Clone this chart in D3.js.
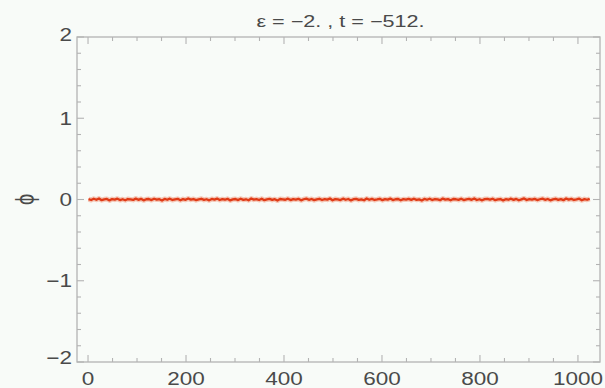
<!DOCTYPE html>
<html>
<head>
<meta charset="utf-8">
<script src="https://cdn.jsdelivr.net/npm/d3@7"></script>
<style>
  html, body { margin: 0; padding: 0; background: #f8fbf8; }
  svg { display: block; }
  text { font-family: "Liberation Sans", Arial, sans-serif; fill: #4a4a4a; }
</style>
</head>
<body>
<svg id="chart" width="605" height="388"></svg>
<script>
// Field values phi along the lattice (sites 1..1024), sampled evenly
const phi = [
  0.004,-0.006,0.009,-0.003,0.012,-0.008,0.002,0.007,-0.011,0.005,-0.002,0.010,-0.007,0.003,-0.009,0.006,
  0.001,-0.005,0.011,-0.004,0.008,-0.010,0.003,0.006,-0.007,0.009,-0.001,0.004,-0.012,0.007,-0.003,0.010,
  -0.006,0.002,0.008,-0.009,0.005,-0.004,0.013,-0.002,0.006,-0.008,0.001,0.009,-0.005,0.003,-0.010,0.007,
  -0.001,0.011,-0.006,0.004,-0.003,0.008,-0.011,0.002,0.006,-0.007,0.010,-0.004,0.003,-0.009,0.012,-0.002,
  0.005,-0.006,0.009,-0.008,0.001,0.007,-0.005,0.004,-0.012,0.006,0.002,-0.003,0.010,-0.007,0.005,-0.001,
  0.008,-0.010,0.003,0.011,-0.004,0.006,-0.008,0.002,0.009,-0.006,0.004,-0.002,0.013,-0.009,0.005,0.001,
  -0.007,0.010,-0.003,0.006,-0.011,0.004,0.008,-0.005,0.002,-0.009,0.012,-0.003,0.007,-0.006,0.001,0.009,
  -0.008,0.005,-0.002,0.011,-0.007,0.003,0.006,-0.010,0.004,-0.001,0.008,-0.005,0.010,-0.004,0.002,-0.012,
  0.007,-0.003,0.009,-0.006,0.005,0.001,-0.008,0.011,-0.002,0.004,-0.009,0.006,0.003,-0.005,0.010,-0.007,
  0.002,0.008,-0.004,0.012,-0.006,0.003,-0.010,0.005,0.007,-0.002,0.009,-0.008,0.001,0.006,-0.011,0.004,
  -0.003,0.010,-0.005,0.007,-0.009,0.002,0.013,-0.006,0.005,-0.001,0.008,-0.007,0.003,0.011,-0.004,0.006,
  -0.010,0.002,0.009,-0.005,0.004,-0.008,0.012,-0.002,0.007,-0.006,0.001,0.010,-0.009,0.005,-0.003,0.008
];
const siteFirst = 1, siteLast = 1024;

// Axis ticks
const xMajor = [0, 200, 400, 600, 800, 1000];
const yMajor = [-2, -1, 0, 1, 2];
const xMinorStep = 50, yMinorStep = 0.2;

const titleText = "\u03B5 = \u22122. , t = \u2212512.";
const yLabel = "\u03D5";

const svg = d3.select("#chart");
const frame = { left: 77, right: 600, top: 37, bottom: 362 };

const x = d3.scaleLinear().domain([-22.5, 1045]).range([frame.left, frame.right]);
const y = d3.scaleLinear().domain([-2, 2]).range([frame.bottom, frame.top]);

const frameColor = "#b3b3b3";
// text is drawn slightly widened, like the rest of the figure
const wide = 1.25;

// Frame
svg.append("rect")
  .attr("x", frame.left).attr("y", frame.top)
  .attr("width", frame.right - frame.left).attr("height", frame.bottom - frame.top)
  .attr("fill", "none").attr("stroke", frameColor).attr("stroke-width", 1.3);

// Tick marks on all four sides
const xMinor = d3.range(0, 1045, xMinorStep).filter(v => !xMajor.includes(v));
const yMinor = d3.range(-2, 2.001, yMinorStep).map(v => +v.toFixed(2)).filter(v => !yMajor.includes(v));
const ticks = svg.append("g").attr("stroke", frameColor).attr("stroke-width", 1.1);
function xTicks(vals, len) {
  vals.forEach(v => {
    ticks.append("line").attr("x1", x(v)).attr("x2", x(v)).attr("y1", frame.bottom).attr("y2", frame.bottom - len);
    ticks.append("line").attr("x1", x(v)).attr("x2", x(v)).attr("y1", frame.top).attr("y2", frame.top + len);
  });
}
function yTicks(vals, len) {
  vals.forEach(v => {
    ticks.append("line").attr("y1", y(v)).attr("y2", y(v)).attr("x1", frame.left).attr("x2", frame.left + len);
    ticks.append("line").attr("y1", y(v)).attr("y2", y(v)).attr("x1", frame.right).attr("x2", frame.right - len);
  });
}
xTicks(xMajor, 7); xTicks(xMinor, 4);
yTicks(yMajor, 7); yTicks(yMinor, 4);

// Tick labels
const fmt = v => (v < 0 ? "\u2212" + Math.abs(v) : String(v));
svg.append("g").selectAll("text").data(xMajor).join("text")
  .attr("transform", d => `translate(${x(d)},${frame.bottom + 23}) scale(${wide},1)`)
  .attr("text-anchor", "middle").attr("font-size", 18)
  .text(fmt);
svg.append("g").selectAll("text").data(yMajor).join("text")
  .attr("transform", d => `translate(${frame.left - 5},${y(d) + (d === -2 ? 2 : d === 2 ? 4 : 6.5)}) scale(${wide},1)`)
  .attr("text-anchor", "end").attr("font-size", 18)
  .text(fmt);

// Title and axis label
svg.append("text")
  .attr("transform", `translate(${(frame.left + frame.right) / 2 + 2},27) scale(1.35,1)`)
  .attr("text-anchor", "middle").attr("font-size", 16)
  .text(titleText);
svg.append("text")
  .attr("transform", `translate(25,${y(0)}) rotate(-90) scale(1,1.3)`)
  .attr("text-anchor", "middle").attr("dominant-baseline", "central")
  .attr("font-size", 20).attr("font-family", "DejaVu Sans")
  .text(yLabel);

// Data line
const step = (siteLast - siteFirst) / (phi.length - 1);
const pts = phi.map((v, i) => [siteFirst + i * step, v]);
const line = d3.line().x(d => x(d[0])).y(d => y(d[1]));

svg.append("path").datum(pts).attr("d", line)
  .attr("fill", "none").attr("stroke", "#f08a6a").attr("stroke-width", 5)
  .attr("stroke-opacity", 0.45).attr("stroke-linejoin", "round");
svg.append("path").datum(pts).attr("d", line)
  .attr("fill", "none").attr("stroke", "#e03a16").attr("stroke-width", 2.3)
  .attr("stroke-linejoin", "round");
</script>
</body>
</html>
